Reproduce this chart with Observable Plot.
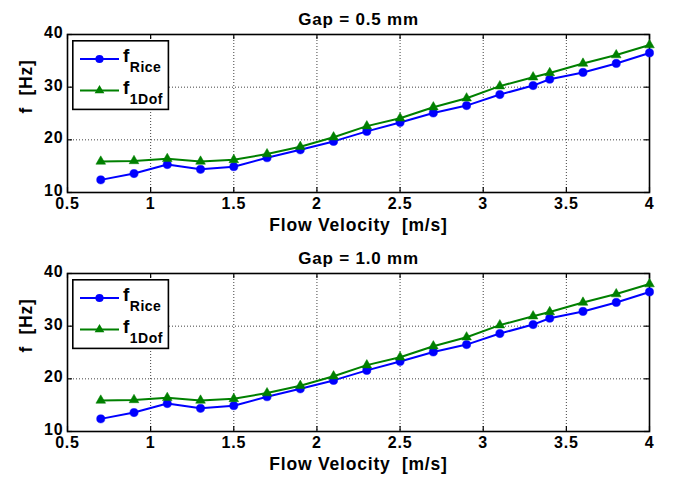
<!DOCTYPE html>
<html><head><meta charset="utf-8">
<script src="https://cdn.jsdelivr.net/npm/d3@7"></script>
<script src="https://cdn.jsdelivr.net/npm/@observablehq/plot@0.6"></script>
<style>
body{margin:0;background:#fff;font-family:"Liberation Sans",Arial,sans-serif;}
.panel{position:relative;width:680px;height:239px;}
.panel svg text{white-space:pre;}
.legend{position:absolute;left:72px;top:40px;}
</style></head><body><div id="chart"></div><script>
const velocity = [0.7,0.9,1.1,1.3,1.5,1.7,1.9,2.1,2.3,2.5,2.7,2.9,3.1,3.3,3.4,3.6,3.8,4.0];
const fRiceGap05 = [12.4,13.6,15.3,14.4,14.9,16.6,18.1,19.7,21.6,23.3,25.1,26.5,28.6,30.3,31.5,32.8,34.5,36.5];
const f1DofGap05 = [15.9,16.0,16.4,15.9,16.2,17.3,18.7,20.5,22.6,24.1,26.2,27.9,30.2,31.9,32.7,34.5,36.1,38.0];
const fRiceGap10 = [12.4,13.6,15.3,14.4,14.9,16.6,18.1,19.7,21.6,23.3,25.1,26.5,28.6,30.3,31.5,32.8,34.5,36.5];
const f1DofGap10 = [15.9,16.0,16.4,15.9,16.2,17.3,18.7,20.5,22.6,24.1,26.2,27.9,30.2,31.9,32.7,34.5,36.1,38.0];
const xTicks = [0.5,1,1.5,2,2.5,3,3.5,4];
const yTicks = [10,20,30,40];
const titles = ["Gap = 0.5 mm","Gap = 1.0 mm"];
const xLabel = "Flow Velocity  [m/s]";
const yLabel = "f  [Hz]";
const seriesNames = ["Rice","1Dof"];
const seriesColors = ["#0000ff","#008000"];

const FONT = "'Liberation Sans', Arial, Helvetica, sans-serif";
const TRI_R = 3.6, DOT_R = 4.1;

function panel(title, rice, dof){
  const riceData = velocity.map((v,i)=>({v, f:rice[i]}));
  const dofData = velocity.map((v,i)=>({v, f:dof[i]}));
  const W = 680, H = 239, mt = 34, mb = 47, ml = 67, mr = 31;
  const fh = H - mt - mb, fw = W - ml - mr, tl = 5;
  const plot = Plot.plot({
    width: W, height: H, marginLeft: ml, marginRight: mr, marginTop: mt, marginBottom: mb,
    style: {fontFamily: FONT, fontSize: "16px", fontWeight: "bold", color: "#000", background: "#fff", overflow: "visible", letterSpacing: "0.8px"},
    x: {domain: [0.5, 4]},
    y: {domain: [10, 40]},
    marks: [
      Plot.gridX(xTicks.slice(1,-1), {stroke: "#000", strokeOpacity: 0.75, strokeDasharray: "1,2"}),
      Plot.gridY(yTicks.slice(1,-1), {stroke: "#000", strokeOpacity: 0.75, strokeDasharray: "1,2"}),
      Plot.tickX(xTicks, {x: d=>d, insetTop: fh - tl, stroke: "#000", strokeWidth: 1.2}),
      Plot.tickX(xTicks, {x: d=>d, insetBottom: fh - tl, stroke: "#000", strokeWidth: 1.2}),
      Plot.tickY(yTicks, {y: d=>d, insetRight: fw - tl, stroke: "#000", strokeWidth: 1.2}),
      Plot.tickY(yTicks, {y: d=>d, insetLeft: fw - tl, stroke: "#000", strokeWidth: 1.2}),
      Plot.frame({stroke: "#000", strokeWidth: 1.6}),
      Plot.line(dofData, {x: "v", y: "f", stroke: seriesColors[1], strokeWidth: 2}),
      Plot.line(riceData, {x: "v", y: "f", stroke: seriesColors[0], strokeWidth: 2}),
      Plot.dot(riceData, {x: "v", y: "f", symbol: "circle", r: DOT_R, fill: seriesColors[0], stroke: seriesColors[0], strokeWidth: 0.5}),
      Plot.dot(dofData, {x: "v", y: "f", symbol: "triangle", r: TRI_R, fill: seriesColors[1], stroke: seriesColors[1], strokeWidth: 0.5}),
      Plot.axisX(xTicks, {tickSize: 0, tickPadding: 5, label: null, tickFormat: d=>String(d), fontSize: 16}),
      Plot.axisY(yTicks, {tickSize: 0, tickPadding: 4, dy: -1.5, label: null, fontSize: 16}),
      Plot.text([title], {frameAnchor: "top", dy: -22, fontSize: 17, fontWeight: "bold"}),
      Plot.text([xLabel], {frameAnchor: "bottom", dy: 38, fontSize: 17.5, fontWeight: "bold"}),
      Plot.text([yLabel], {frameAnchor: "left", dx: -41, rotate: -90, fontSize: 17.5, fontWeight: "bold"})
    ]
  });
  const div = document.createElement("div");
  div.className = "panel";
  div.appendChild(plot);
  // legend overlay
  const ns = "http://www.w3.org/2000/svg";
  const lg = document.createElementNS(ns, "svg");
  lg.setAttribute("class", "legend");
  lg.setAttribute("width", 98); lg.setAttribute("height", 71);
  const rows = [
    {name: seriesNames[0], color: seriesColors[0], y: 19, sym: "circle"},
    {name: seriesNames[1], color: seriesColors[1], y: 50.5, sym: "triangle"}
  ];
  let html = `<rect x="0.8" y="0.8" width="95.6" height="68.6" fill="#fff" stroke="#000" stroke-width="1.6"/>`;
  for (const r of rows) {
    html += `<line x1="8" x2="47" y1="${r.y}" y2="${r.y}" stroke="${r.color}" stroke-width="2"/>`;
    if (r.sym === "circle") html += `<circle cx="27.5" cy="${r.y}" r="${DOT_R}" fill="${r.color}"/>`;
    else html += `<path d="${d3.symbol(d3.symbolTriangle, Math.PI*TRI_R*TRI_R)()}" transform="translate(27.5,${r.y})" fill="${r.color}"/>`;
    html += `<text x="51" y="${r.y+3}" font-family="${FONT}" font-weight="bold" font-size="19" letter-spacing="0.5">f<tspan dy="10" font-size="14">${r.name}</tspan></text>`;
  }
  lg.innerHTML = html;
  div.appendChild(lg);
  return div;
}
const root = document.getElementById("chart");
root.appendChild(panel(titles[0], fRiceGap05, f1DofGap05));
root.appendChild(panel(titles[1], fRiceGap10, f1DofGap10));
</script></body></html>
